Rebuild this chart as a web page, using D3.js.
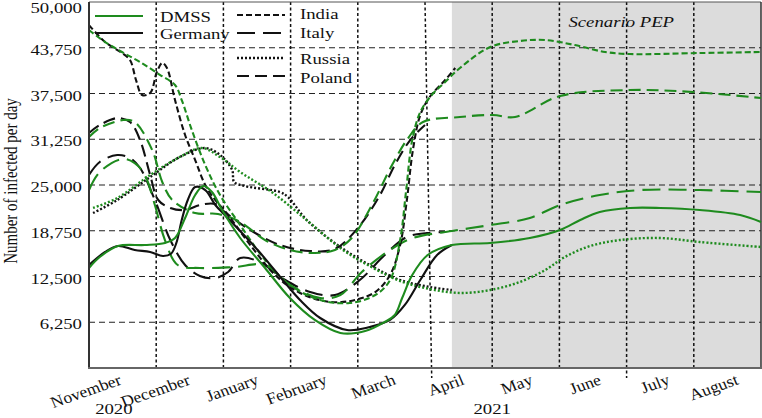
<!DOCTYPE html>
<html><head><meta charset="utf-8">
<script src="https://cdn.jsdelivr.net/npm/d3@7/dist/d3.min.js"></script>
<style>
body{margin:0;background:#fff;}
text{font-family:"Liberation Serif","Times New Roman",serif;fill:#111;}
</style>
</head><body>
<svg id="chart" width="762" height="418"></svg>
<script>
// ---------- DATA (month index from start of November 2020, infected per day) ----------
const monthLabels = ["November","December","January","February","March","April","May","June","July","August"];
const yearLabels = [{label:"2020", m:0.37},{label:"2021", m:6.0}];
const yTicks = [6250,12500,18750,25000,31250,37500,43750,50000];
const scenarioStart = 5.4;
const scenarioLabel = "Scenario PEP";

const germanyActual = [[0,14070],[0.24,15850],[0.43,16670],[0.68,16120],[0.91,15850],[1.10,15300],[1.22,15600],[1.30,17080],[1.38,20220],[1.47,22950],[1.58,24720],[1.73,24310],[1.88,22270],[2.02,20900],[2.51,16120],[2.92,11610],[3.14,9290],[3.44,6830],[3.84,5190],[4.18,5600],[4.48,6560],[4.70,8610],[4.93,12020],[5.18,15440],[5.40,16800]];
const germanyDMSS = [[0,13660],[0.16,15160],[0.43,16670],[0.83,16800],[1.13,17080],[1.28,17760],[1.43,20490],[1.58,23630],[1.70,24860],[1.83,24040],[1.98,21580],[2.25,17760],[2.62,13660],[2.99,9560],[3.36,6560],[3.74,4780],[4.11,5050],[4.40,6280],[4.55,7240],[4.66,9560],[4.81,12700],[5.04,15440],[5.40,16800],[5.97,17080],[6.56,17760],[7.01,18850],[7.31,20220],[7.60,21310],[8.05,21860],[8.50,21860],[9.09,21580],[9.69,20900],[10,19940]];

const indiaActual = [[0,46850],[0.24,44530],[0.49,43030],[0.61,42070],[0.70,39340],[0.79,37290],[0.91,37570],[1.01,40430],[1.09,41660],[1.16,40980],[1.28,36610],[1.43,31830],[1.58,28410],[1.73,25000],[1.88,22950],[2.07,20900],[2.40,16800],[2.77,12700],[3.14,10250],[3.59,9020],[3.96,9290],[4.26,10380],[4.48,12700],[4.63,16800],[4.73,22950],[4.82,29780],[4.93,34560],[5.07,37020],[5.30,39340],[5.45,40980]];
const indiaDMSS = [[0,46170],[0.24,44530],[0.49,43170],[0.76,41800],[1.06,40020],[1.28,38660],[1.38,36610],[1.53,32510],[1.73,27730],[1.95,23630],[2.25,19530],[2.62,14750],[2.99,11340],[3.44,9290],[3.88,8880],[4.26,9970],[4.48,12020],[4.63,17480],[4.72,24310],[4.81,31140],[4.93,34970],[5.10,37290],[5.30,39070],[5.52,40980],[5.97,43850],[6.41,44670],[6.79,44800],[7.23,44120],[7.68,43170],[8.05,42890],[9.09,43030],[10,43170]];

const italyActual = [[0,26360],[0.16,28140],[0.42,29100],[0.61,28690],[0.76,27320],[0.98,22950],[1.21,17480],[1.43,14070],[1.65,12570],[1.88,12290],[2.07,13110],[2.25,15030],[2.54,14480],[2.92,12020],[3.29,10380],[3.66,9970],[4.03,12020],[4.40,15440],[4.73,17900],[5.03,18440],[5.30,18580]];
const italyDMSS = [[0,24310],[0.16,26770],[0.49,28550],[0.68,28000],[0.83,26360],[0.98,22270],[1.13,17480],[1.32,14070],[1.65,13660],[2.17,13800],[2.62,14070],[2.99,11340],[3.44,9560],[3.74,9970],[4.06,13110],[4.48,16120],[4.82,17760],[5.40,18710],[5.97,19530],[6.56,20490],[7.01,22270],[7.60,23630],[8.20,24310],[9.09,24310],[10,24040]];

const russiaActual = [[0.06,21170],[0.42,22950],[0.91,26090],[1.35,28820],[1.73,30050],[1.95,29100],[2.13,27050],[2.16,25410],[2.32,24860],[2.84,24040],[2.96,23360],[3.24,20220],[3.74,16530],[4.23,13800],[4.63,12020],[5.07,11070],[5.40,10650]];
const russiaDMSS = [[0.06,21860],[0.42,23220],[0.91,26360],[1.35,28820],[1.68,30050],[1.95,28820],[2.25,26770],[2.74,23900],[3.29,19810],[3.78,16120],[4.23,13660],[4.63,11880],[5.07,10790],[5.52,10250],[5.97,10650],[6.41,11750],[6.79,13390],[7.08,15160],[7.46,16670],[7.90,17480],[8.50,17760],[9.09,17210],[10,16530]];

const polandActual = [[0,32100],[0.16,33190],[0.43,34150],[0.61,33600],[0.76,31140],[0.91,26360],[1.03,22950],[1.21,21860],[1.43,21580],[1.65,22270],[1.88,22400],[2.02,21310],[2.40,18850],[2.84,16800],[3.29,15980],[3.66,16260],[4.00,19120],[4.33,23630],[4.55,27730],[4.78,31140],[5.00,33190]];
const polandDMSS = [[0,31550],[0.16,32780],[0.51,33880],[0.68,33600],[0.94,29780],[1.09,25410],[1.24,22950],[1.58,21170],[1.92,21040],[2.25,19940],[2.62,17480],[2.99,16120],[3.36,15710],[3.66,16120],[3.91,17760],[4.21,22270],[4.51,27730],[4.75,31420],[4.97,33600],[5.52,34290],[6.01,34560],[6.34,34290],[7.01,37160],[8.05,37970],[8.99,37700],[10,36880]];

// ---------- STYLES ----------
const GREEN = "#1e8b1e", BLACK = "#111";
const dashes = {Germany:null, India:"6,3", Italy:"18,8", Russia:"2,2", Poland:"12,6"};

const svg = d3.select("#chart");
const x = d3.scaleLinear().domain([0,10]).range([89,761]);
const y = d3.scaleLinear().domain([0,50000]).range([368,2]);

function stretchText(g, px, py, str, opt={}){
  const t = g.append("text")
    .attr("transform", `translate(${px},${py}) scale(${opt.sx||1.25},1)` + (opt.rot?` rotate(${opt.rot})`:""))
    .attr("text-anchor", opt.anchor||"start")
    .style("font-size", (opt.size||15)+"px")
    .text(str);
  if(opt.italic) t.style("font-style","italic");
  return t;
}

// shaded scenario region
svg.append("rect").attr("x", x(scenarioStart)).attr("y", y(50000))
  .attr("width", x(10)-x(scenarioStart)).attr("height", y(0)-y(50000))
  .attr("fill","#dcdcdc");

// horizontal grid
svg.append("g").selectAll("line").data(yTicks.filter(d=>d<50000)).join("line")
  .attr("x1", x(0)).attr("x2", x(10)).attr("y1", d=>y(d)).attr("y2", d=>y(d))
  .attr("stroke","#222").attr("stroke-width",1.2).attr("stroke-dasharray","6,4");

// vertical month grid
svg.append("g").selectAll("line").data(d3.range(1,10)).join("line")
  .attr("x1", d=>x(d)).attr("x2", d=> d===5 ? x(5.1) : x(d))
  .attr("y1", y(50000)).attr("y2", d=> (d===5||d===8) ? 378 : y(0))
  .attr("stroke","#111").attr("stroke-width",1.5).attr("stroke-dasharray","3,2.5");

// frame
svg.append("line").attr("x1",x(0)).attr("x2",x(10)).attr("y1",y(50000)).attr("y2",y(50000)).attr("stroke","#555").attr("stroke-width",1);
svg.append("line").attr("x1",x(10)).attr("x2",x(10)).attr("y1",y(50000)).attr("y2",y(0)).attr("stroke","#333").attr("stroke-width",1.5);

// series
const line = d3.line().x(d=>x(d[0])).y(d=>y(d[1])).curve(d3.curveCatmullRom.alpha(0.5));
const series = [
  {name:"Russia", data:russiaActual, color:BLACK},
  {name:"Russia", data:russiaDMSS, color:GREEN},
  {name:"Poland", data:polandActual, color:BLACK},
  {name:"Poland", data:polandDMSS, color:GREEN},
  {name:"Italy", data:italyActual, color:BLACK},
  {name:"Italy", data:italyDMSS, color:GREEN},
  {name:"India", data:indiaActual, color:BLACK},
  {name:"India", data:indiaDMSS, color:GREEN},
  {name:"Germany", data:germanyActual, color:BLACK},
  {name:"Germany", data:germanyDMSS, color:GREEN}
];
svg.append("g").selectAll("path").data(series).join("path")
  .attr("d", d=>line(d.data)).attr("fill","none")
  .attr("stroke", d=>d.color)
  .attr("stroke-width", d=> d.name==="Russia" ? 2.4 : 2.1)
  .attr("stroke-dasharray", d=>dashes[d.name]);

// axes lines
svg.append("line").attr("x1",x(0)).attr("x2",x(0)).attr("y1",y(50000)).attr("y2",y(0)).attr("stroke","#333").attr("stroke-width",2);
svg.append("line").attr("x1",x(0)-1).attr("x2",x(10)+1).attr("y1",y(0)).attr("y2",y(0)).attr("stroke","#666").attr("stroke-width",2.2);

// y tick labels
const fmt = d3.format(",");
const yl = svg.append("g");
yTicks.forEach(v=>{
  stretchText(yl, 82, Math.max(y(v)+7, 13), fmt(v), {anchor:"end"});
});

// y title
stretchText(svg, 17, 181, "Number of infected per day", {anchor:"middle", rot:-90, sx:1.2});

// x labels
const xl = svg.append("g");
monthLabels.forEach((m,i)=>{
  stretchText(xl, x(i + 0.5 + 0.02*i), 384, m, {anchor:"end", rot:-21, sx:1.1, size:16});
});
yearLabels.forEach(d=>{
  stretchText(xl, x(d.m), 414, d.label, {anchor:"middle"});
});

// scenario label
stretchText(svg, x(7.92), 27, scenarioLabel, {anchor:"middle", italic:true});

// legend
const legend = [
  {label:"DMSS", color:GREEN, dash:null, lx:95, ly:16, ty:22},
  {label:"Germany", color:BLACK, dash:null, lx:95, ly:33, ty:39},
  {label:"India", color:BLACK, dash:dashes.India, lx:237, ly:15, ty:19},
  {label:"Italy", color:BLACK, dash:dashes.Italy, lx:237, ly:33, ty:38},
  {label:"Russia", color:BLACK, dash:dashes.Russia, lx:237, ly:58, ty:64},
  {label:"Poland", color:BLACK, dash:dashes.Poland, lx:237, ly:76, ty:83}
];
const lg = svg.append("g");
legend.forEach(d=>{
  lg.append("line").attr("x1",d.lx).attr("x2",d.lx+48).attr("y1",d.ly).attr("y2",d.ly)
    .attr("stroke",d.color).attr("stroke-width", d.label==="Russia"?2.4:2.1).attr("stroke-dasharray",d.dash);
  stretchText(lg, d.lx + (d.lx<200?65:63), d.ty, d.label, {});
});
</script>
</body></html>
